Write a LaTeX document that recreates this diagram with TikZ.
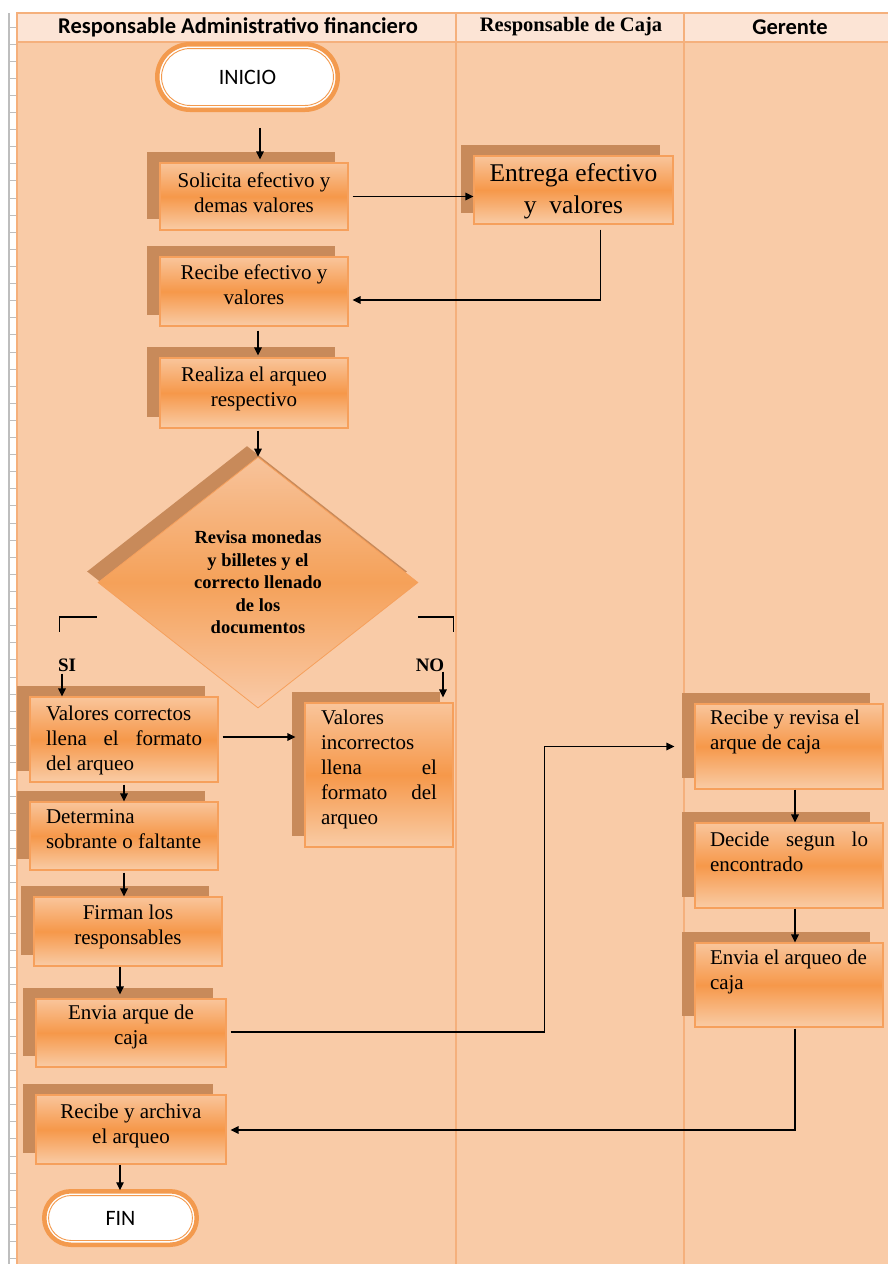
\documentclass[tikz,border=0pt]{standalone}
\usepackage{fontspec}
\setmainfont{Liberation Serif}
\newfontfamily\hdrsans{Carlito}
\usetikzlibrary{arrows.meta,calc,shadows,shapes.geometric}

\definecolor{lanebg}{HTML}{F9CBA7}
\definecolor{hdrfill}{HTML}{FCE4D5}
\definecolor{laneline}{HTML}{F5B07C}
\definecolor{boxtop}{HTML}{F9C59B}
\definecolor{boxmid}{HTML}{F6984A}
\definecolor{boxbot}{HTML}{F9CCA6}
\definecolor{boxline}{HTML}{F6A05C}
\definecolor{shadowc}{HTML}{C88A5A}
\definecolor{diatop}{HTML}{F7C39B}
\definecolor{diamid}{HTML}{F5A159}
\definecolor{diabot}{HTML}{F9CAA8}
\definecolor{termring}{HTML}{F39A4E}
\definecolor{rulergray}{HTML}{BEBEBE}

% text block of fixed height, set from its top
\newcommand\boxtext[3]{\parbox[c][#1][t]{#2}{#3}}

\begin{document}
\begin{tikzpicture}[x=1pt,y=-1pt,
  lanetitle/.style={font=\hdrsans\bfseries\fontsize{22.5}{24}\selectfont, inner sep=0pt},
  procbox/.style={draw=boxline, line width=1.2pt,
     top color=boxtop, bottom color=boxbot, middle color=boxmid,
     general shadow={fill=shadowc, shadow xshift=-13pt, shadow yshift=11pt},
     inner sep=0pt, font=\fontsize{21}{25}\selectfont},
  decision/.style={diamond, draw=boxline, line width=0.8pt,
     top color=diatop, bottom color=diabot, middle color=diamid,
     general shadow={fill=shadowc, shadow xshift=-11pt, shadow yshift=11pt},
     inner sep=0pt, align=center, font=\bfseries\fontsize{18.5}{22.5}\selectfont},
  terminal/.style={draw=termring, line width=4.5pt, fill=white, outer sep=0pt, inner sep=0pt,
     font=\hdrsans\fontsize{22}{24}\selectfont},
  ring/.style={draw=termring, line width=0.9pt},
  branchlbl/.style={font=\bfseries\fontsize{19}{22}\selectfont, inner sep=0pt},
  link/.style={draw=black, line width=1.4pt},
  arr/.style={link, -{Triangle[length=8pt,width=7.5pt]}},
]
\useasboundingbox (0,0) rectangle (888,1264);
\fill[white] (0,0) rectangle (888,1264);

% ruler along the left edge
\draw[rulergray, line width=2pt] (9,13) -- (9,1264);
\foreach \k in {0,...,72}
  \draw[rulergray, line width=1pt] (9,{27+17.106*\k}) -- (16.5,{27+17.106*\k});

% swimlanes
\fill[lanebg] (17,42) rectangle (888,1264);
\fill[hdrfill] (17,13) rectangle (888,42);
\draw[laneline, line width=1.6pt] (17,1264) -- (17,13) -- (888,13);
\draw[laneline, line width=1.4pt] (17,42) -- (888,42);
\draw[laneline, line width=1.4pt] (456,13) -- (456,1264);
\draw[laneline, line width=1.4pt] (684,13) -- (684,1264);

\node[lanetitle] (lane1) at (238,27) {Responsable Administrativo financiero};
\node[lanetitle, font=\bfseries\fontsize{20.5}{24}\selectfont] (lane2) at (571,27) {Responsable de Caja};
\node[lanetitle] (lane3) at (790,27) {Gerente};

% start
\node[terminal, minimum width=180.5pt, minimum height=65.5pt, rounded corners=32.75pt] (inicio) at (247.5,77) {INICIO};
\draw[ring, rounded corners=28.5pt] ($(inicio.north west)+(4.3,4.3)$) rectangle ($(inicio.south east)+(-4.3,-4.3)$);

% Responsable Administrativo financiero
\node[procbox, minimum width=188pt, minimum height=67pt] (solicita) at (254,196.5)
  {\boxtext{47pt}{180pt}{\centering Solicita efectivo y\\demas valores\par}};
\node[procbox, minimum width=188pt, minimum height=69pt] (recibe) at (254,291.5)
  {\boxtext{53pt}{180pt}{\centering Recibe efectivo y\\valores\par}};
\node[procbox, minimum width=188pt, minimum height=70pt] (realiza) at (254,393)
  {\boxtext{52pt}{180pt}{\centering Realiza el arqueo\\respectivo\par}};

\node[decision, minimum width=320pt, minimum height=251pt] (dia) at (258,582.5)
  {Revisa monedas\\y billetes y el\\correcto llenado\\de los\\documentos};

\node[procbox, minimum width=188pt, minimum height=85pt] (vc) at (124,739.5)
  {\boxtext{67pt}{156pt}{\raggedright Valores correctos\\\makebox[156pt][s]{llena el formato}\\del arqueo\par}};
\node[procbox, minimum width=148pt, minimum height=144pt] (vi) at (379,775)
  {\boxtext{130pt}{116pt}{\raggedright Valores\\incorrectos\\\makebox[116pt][s]{llena el}\\\makebox[116pt][s]{formato del}\\arqueo\par}};
\node[procbox, minimum width=188pt, minimum height=68pt] (det) at (124,836)
  {\boxtext{52pt}{156pt}{\raggedright Determina\\sobrante o faltante\par}};
\node[procbox, minimum width=188pt, minimum height=69pt] (fir) at (128,931.5)
  {\boxtext{53pt}{180pt}{\centering Firman los\\responsables\par}};
\node[procbox, minimum width=190pt, minimum height=68pt] (env) at (131,1033)
  {\boxtext{56pt}{180pt}{\centering Envia arque de\\caja\par}};
\node[procbox, minimum width=190pt, minimum height=69pt] (rar) at (131,1129.5)
  {\boxtext{51pt}{180pt}{\centering Recibe y archiva\\el arqueo\par}};

\node[terminal, minimum width=152.5pt, minimum height=53.5pt, rounded corners=26.75pt] (fin) at (120.5,1218) {FIN};
\draw[ring, rounded corners=22.5pt] ($(fin.north west)+(4.3,4.3)$) rectangle ($(fin.south east)+(-4.3,-4.3)$);

% Responsable de Caja
\node[procbox, minimum width=199pt, minimum height=68pt, font=\fontsize{25.5}{32}\selectfont] (entrega) at (573.5,190)
  {\boxtext{53pt}{190pt}{\centering Entrega efectivo\\y\ \ valores\par}};

% Gerente
\node[procbox, minimum width=188pt, minimum height=85pt] (rr) at (789,746.5)
  {\boxtext{73pt}{158pt}{\raggedright Recibe y revisa el\\arque de caja\par}};
\node[procbox, minimum width=188pt, minimum height=85pt] (dec) at (789,865.5)
  {\boxtext{67pt}{158pt}{\raggedright\makebox[158pt][s]{Decide segun lo}\\encontrado\par}};
\node[procbox, minimum width=188pt, minimum height=84pt] (ea) at (789,985)
  {\boxtext{70pt}{158pt}{\raggedright Envia el arqueo de\\caja\par}};

% branch labels
\node[branchlbl] (si) at (67,665) {SI};
\node[branchlbl] (no) at (430,665) {NO};

% connectors
\draw[arr] ($(inicio.south)+(12.5,18)$) -- ($(solicita.north)+(6,-3)$);
\draw[arr] ($(solicita.east)+(4,0)$) -- (solicita.east -| entrega.west);
\draw[arr] ($(entrega.south)+(27,5)$) |- ($(recibe.east)+(4,8.5)$);
\draw[arr] ($(recibe.south)+(4,4)$) -- ($(realiza.north)+(4,-2)$);
\draw[arr] ($(realiza.south -| dia.north)+(0,2)$) -- (dia.north);

\draw[link] ($(dia.west)+(-1,34.5)$) -- ++(-37,0) -- ++(0,15);
\draw[arr] ($(si.south)+(-5,2)$) -- ($(vc.north)+(-62,0)$);
\draw[link] ($(dia.east)+(0,34.5)$) -- ++(35,0) -- ++(0,15);
\draw[arr] ($(no.south)+(13,0)$) -- ($(vi.north)+(64,-5)$);

\draw[arr] ($(vc.east)+(4,-2.5)$) -- ($(vc.east -| vi.west)+(-9,-2.5)$);
\draw[arr] ($(vc.south)+(0,2)$) -- (det.north);
\draw[arr] ($(det.south)+(0,2)$) -- ($(fir.north)+(-4,0)$);
\draw[arr] ($(fir.south)+(-8,0)$) -- ($(env.north)+(-11,-4)$);
\draw[arr] ($(env.east)+(4,-1)$) -| ($(rr.west)+(-150,0)$) -- ($(rr.west)+(-20,0)$);
\draw[arr] ($(rr.south)+(6,0)$) -- ($(dec.north)+(6,0)$);
\draw[arr] ($(dec.south)+(6,0)$) -- ($(ea.north)+(6,0)$);
\draw[arr] ($(ea.south)+(6,1)$) |- ($(rar.east)+(4,0.5)$);
\draw[arr] ($(rar.south)+(-11,0)$) -- ($(fin.north)+(-0.5,-1)$);
\end{tikzpicture}
\end{document}
